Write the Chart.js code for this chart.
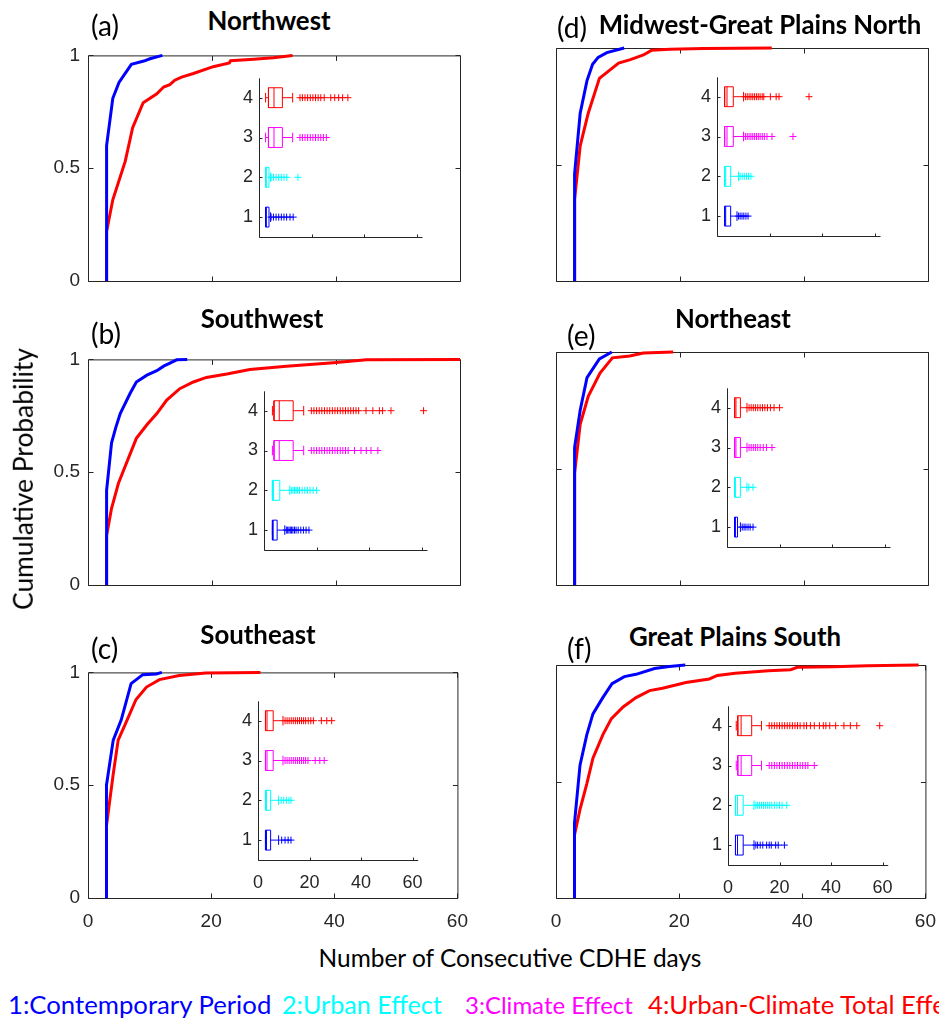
<!DOCTYPE html>
<html>
<head>
<meta charset="utf-8">
<script src="https://cdn.jsdelivr.net/npm/chart.js@4.4.0/dist/chart.umd.min.js"></script>
<style>
html,body{margin:0;padding:0;background:#fff;}
#fig{position:relative;width:939px;height:1018px;overflow:hidden;background:#fff;}
#fig canvas{position:absolute;}
.txt{position:absolute;white-space:nowrap;font-family:Lato,"Open Sans",sans-serif;color:#000;line-height:1;}
</style>
</head>
<body>
<div id="fig"></div>
<script>
// CDF curves, [days, cumulative probability]
const nwBlue = [[3,0],[3,0.6],[4,0.81],[5,0.88],[6,0.92],[7,0.96],[9,0.975],[10,0.985],[12,1]];
const nwRed = [[3,0],[3,0.22],[4,0.36],[6,0.53],[7.2,0.68],[8.9,0.79],[11.1,0.83],[12.2,0.86],[13.2,0.87],[14,0.89],[15.1,0.904],[17,0.92],[20.2,0.95],[22.8,0.967],[23,0.976],[26.7,0.983],[29.9,0.99],[33,1]];
const mwBlue = [[3,0],[3,0.46],[3.9,0.72],[5,0.86],[5.9,0.93],[6.8,0.96],[8.2,0.98],[11,1]];
const mwRed = [[3,0],[3,0.35],[3.9,0.58],[5.2,0.72],[7,0.87],[10.1,0.935],[12,0.95],[14.1,0.97],[15.4,0.99],[18.4,0.995],[23.8,0.998],[34.8,1]];
const swBlue = [[3,0],[3,0.42],[3.8,0.63],[4.5,0.7],[5.2,0.76],[6.8,0.85],[7.8,0.9],[9.5,0.93],[11.1,0.95],[12.2,0.97],[13.3,0.985],[14.3,0.998],[16,1]];
const swRed = [[3,0],[3,0.22],[3.8,0.34],[4.9,0.45],[6.2,0.54],[7.8,0.65],[9.5,0.71],[11.1,0.76],[12.7,0.82],[14.8,0.87],[17,0.9],[19.1,0.92],[22.4,0.935],[26.1,0.955],[32,0.97],[39.6,0.985],[44.9,0.998],[60,1]];
const neBlue = [[3,0],[3,0.59],[3.9,0.75],[5,0.89],[7,0.97],[9,1]];
const neRed = [[3,0],[3,0.48],[3.9,0.69],[5.2,0.81],[7.1,0.91],[9.1,0.975],[11.9,0.983],[14.1,0.996],[18.9,1]];
const seBlue = [[3,0],[3,0.5],[4.1,0.7],[5.4,0.79],[7,0.95],[8.9,0.99],[11.1,0.993],[12,1]];
const seRed = [[3,0],[3,0.32],[4.1,0.55],[4.9,0.7],[6.2,0.78],[7.8,0.88],[9.5,0.935],[11.6,0.968],[14.8,0.986],[19.1,0.997],[28,1]];
const gpBlue = [[3,0],[3,0.32],[3.9,0.57],[5,0.7],[6,0.79],[7.6,0.86],[9.1,0.92],[11.1,0.95],[13,0.96],[16,0.985],[18.4,0.994],[21,1]];
const gpRed = [[3,0],[3,0.27],[3.9,0.38],[5,0.49],[6,0.6],[7.6,0.7],[9,0.77],[10.9,0.82],[13,0.86],[15.2,0.89],[17.3,0.9],[21.1,0.925],[24.9,0.94],[26.2,0.955],[29.1,0.965],[34.5,0.975],[38.1,0.98],[39.2,0.99],[45.1,0.993],[50.6,0.997],[58.9,1]];

// inset boxplots: rows 1..4 as [lower whisker, q1, median, q3, upper whisker]
const nwStats = [[2.5,2.5,2.8,3.8,4.4],[2.5,2.5,2.8,3.8,4.4],[2.5,3.6,5.7,8.9,12.8],[2.5,3.6,5.7,8.9,12.8]];
const nwOut = [
  [4.6,5.5,6.5,7.5,8.5,9.5,10.5,11.8,13],
  [4.6,5.5,6.5,7.5,8.5,9.5,10.6,14.8],
  [15.6,16.5,17.5,18.5,19.5,20.5,21.5,22.5,23.5,24.5,25.6],
  [15.6,16.5,17.5,18.5,19.5,20.5,21.5,22.5,23.5,24.8,27.3,28.8,30.3,31.8,33.8]
];
const mwStats = [[2.9,2.9,3.3,5.2,7.6],[2.9,2.9,3.3,5.2,8.2],[2.9,2.9,3.8,6.2,10.1],[2.9,2.9,3.8,6.2,10.1]];
const mwOut = [
  [8.2,8.8,9.5,10.2,11,11.8],
  [8.8,9.6,10.4,11.2,12,12.9],
  [10.8,11.5,12.2,12.9,13.6,14.3,15,15.7,16.4,17.2,18,19,20.9,28.9],
  [10.8,11.5,12.2,12.9,13.6,14.3,15,15.7,16.4,17.2,17.8,20.3,22.5,23.6,35]
];
const swStats = [[3.2,3.2,3.5,5,7.9],[3.2,3.2,3.6,6,9.8],[3.2,3.8,5.8,11.1,15.1],[3.2,3.8,5.8,11.1,15.1]];
const swOut = [
  [8.5,9,9.5,10,10.5,11,11.6,12.2,13,14,15,16,17.1],
  [10.4,11,11.6,12.2,12.8,13.5,14.5,15.5,16.5,17.5,18.7,20],
  [18,19,20,21,22,23,24,25,26,27,28,29,30,31,32,34.4,36.9,38.9,40.7,43.3],
  [18,19,20,21,22,23,24,25,26,27,28,29,30,31,32,33,34,35,36,38.8,41.4,43.9,45.1,48.3,60.7]
];
const neStats = [[2.9,2.9,3.2,4,5.1],[2.9,2.9,3.2,5.1,7.6],[2.9,2.9,3.4,5.1,7.6],[2.9,2.9,3.4,5.1,7.6]];
const neOut = [
  [5.8,6.5,7.2,8,8.8,9.9],
  [8.3,9.9],
  [8.4,9.2,10,10.8,11.7,12.6,13.8,15,17.1],
  [8.4,9.2,10,10.8,11.7,12.6,13.5,14.4,15.4,16.5,17.9,20]
];
const seStats = [[2.9,2.9,3.3,4.9,8],[2.9,2.9,3.3,4.9,8],[2.9,2.9,3.5,5.9,9.7],[2.9,2.9,3.5,5.9,9.7]];
const seOut = [
  [9.2,10.5,11.7,12.8],
  [9,10,11,12,12.8],
  [10.5,11.3,12.1,12.9,13.7,14.5,15.3,16.1,16.9,17.7,18.5,19.4,22.2,24,25.7],
  [10.5,11.3,12.1,12.9,13.7,14.5,15.3,16.1,16.9,17.7,18.5,19.5,20.5,21.5,24.6,26.7,28.6]
];
const gpStats = [[2.9,2.9,3.7,5.9,10.1],[2.9,2.9,3.7,5.9,10.1],[3.2,3.8,5.1,9.2,13],[3.2,3.8,5.1,9.2,13]];
const gpOut = [
  [10.8,11.5,12.5,13.5,15,16,16.8,18.5,19.5,21.9],
  [10.8,11.5,12.2,13,13.8,14.6,15.4,16.2,17,18,19,20,21,22.8],
  [16,17,18,19,20,21,22,23,24,25,26,27,28,29,30,31,33.5],
  [16,17,18,19,20,21,22,23,24,25,26,27,28,29.5,30.5,32,33.5,35.5,37,38,39.5,41.8,45,47.5,50,58.9]
];

const mainXTicks = [0, 20, 40, 60];
const mainYTicks = [0, 0.5, 1];
const insetXTicks = [0, 20, 40, 60];
const insetYTicks = [1, 2, 3, 4];
const rowColors = ['#0000ff', '#00ffff', '#ff00ff', '#ff0000'];
const legendLabels = ['1:Contemporary Period', '2:Urban Effect', '3:Climate Effect', '4:Urban-Climate Total Effect'];

const AX = '#262626';
const TF = '"Liberation Sans", Arial, sans-serif';
const fig = document.getElementById('fig');

const panels = [
  {tag:'(a)', title:'Northwest', blue:nwBlue, red:nwRed, stats:nwStats, out:nwOut,
   L:88, T:48, showX:false, showY:true, iL:259, iT:73, iX:false, tagXY:[91,25], ttlXY:[269,21]},
  {tag:'(d)', title:'Midwest-Great Plains North', blue:mwBlue, red:mwRed, stats:mwStats, out:mwOut,
   L:556, T:48, showX:false, showY:false, iL:717, iT:72, iX:false, tagXY:[557,27], ttlXY:[760,25]},
  {tag:'(b)', title:'Southwest', blue:swBlue, red:swRed, stats:swStats, out:swOut,
   L:88, T:352, showX:false, showY:true, iL:264, iT:386, iX:false, tagXY:[91,333], ttlXY:[262,319]},
  {tag:'(e)', title:'Northeast', blue:neBlue, red:neRed, stats:neStats, out:neOut,
   L:556, T:352, showX:false, showY:false, iL:727, iT:383, iX:false, tagXY:[567,335], ttlXY:[733,319]},
  {tag:'(c)', title:'Southeast', blue:seBlue, red:seRed, stats:seStats, out:seOut,
   L:88, T:665, showX:true, showY:true, iL:258, iT:696, iX:true, tagXY:[91,648], ttlXY:[258,635]},
  {tag:'(f)', title:'Great Plains South', blue:gpBlue, red:gpRed, stats:gpStats, out:gpOut,
   L:556, T:665, showX:true, showY:false, iL:728, iT:701, iX:true, tagXY:[567,648], ttlXY:[735,637]}
];

// matlab-like axes: box or left/bottom lines, ticks pointing inward
const framePlugin = {
  id: 'frame',
  beforeDatasetsDraw(chart, args, o) {
    const {ctx, chartArea: a, scales: {x, y}} = chart;
    const len = o.len;
    ctx.save();
    ctx.strokeStyle = AX;
    ctx.lineWidth = 1;
    ctx.beginPath();
    const l = a.left + 0.5, r = a.right + 0.5, t = a.top + 0.5, b = a.bottom + 0.5;
    ctx.moveTo(l, t); ctx.lineTo(l, b); ctx.lineTo(r, b);
    if (o.box) { ctx.lineTo(r, t); ctx.lineTo(l, t); }
    x.ticks.forEach(tk => {
      const px = Math.round(x.getPixelForValue(tk.value)) + 0.5;
      ctx.moveTo(px, b); ctx.lineTo(px, b - len);
      if (o.box) { ctx.moveTo(px, t); ctx.lineTo(px, t + len); }
    });
    y.ticks.forEach(tk => {
      const py = Math.round(y.getPixelForValue(tk.value)) + 0.5;
      ctx.moveTo(l, py); ctx.lineTo(l + len, py);
      if (o.box) { ctx.moveTo(r, py); ctx.lineTo(r - len, py); }
    });
    ctx.stroke();
    ctx.restore();
  }
};

function makeCanvas(left, top, w, h) {
  const c = document.createElement('canvas');
  c.width = w; c.height = h;
  c.style.left = left + 'px'; c.style.top = top + 'px';
  c.style.width = w + 'px'; c.style.height = h + 'px';
  fig.appendChild(c);
  return c;
}

const PW = 372, PH = 233, ML = 50, MT = 12, MR = 20, MB = 36;
const IW = 163, IH = 164, IL = 30, IT = 12, IR = 14, IB = 30;

function mainChart(p) {
  const cv = makeCanvas(p.L - ML, p.T - MT, ML + PW + MR, MT + PH + MB);
  const line = (pts, col) => ({
    data: pts.map(([x, y]) => ({x, y})), showLine: true, borderColor: col,
    borderWidth: 3, pointRadius: 0, clip: 6, tension: 0
  });
  new Chart(cv, {
    type: 'scatter',
    data: {datasets: [line(p.blue, '#0000ff'), line(p.red, '#ff0000')]},
    options: {
      responsive: false, animation: false, events: [],
      layout: {padding: {left: 0, top: MT, right: MR, bottom: 0}},
      plugins: {legend: {display: false}, tooltip: {enabled: false}, frame: {box: true, len: 5}},
      scales: {
        x: {
          type: 'linear', position: 'bottom', min: 0, max: 60,
          afterBuildTicks: s => { s.ticks = mainXTicks.map(v => ({value: v})); },
          afterFit: s => { s.height = MB; },
          grid: {display: false, drawTicks: false}, border: {display: false},
          ticks: {display: p.showX, font: {family: TF, size: 19}, color: AX, padding: 12, maxRotation: 0, autoSkip: false}
        },
        y: {
          type: 'linear', position: 'left', min: 0, max: 1,
          afterBuildTicks: s => { s.ticks = mainYTicks.map(v => ({value: v})); },
          afterFit: s => { s.width = ML; },
          grid: {display: false, drawTicks: false}, border: {display: false},
          ticks: {display: p.showY, font: {family: TF, size: 19}, color: AX, padding: 8, callback: v => String(v)}
        }
      }
    },
    plugins: [framePlugin]
  });
}

function boxLines(s, r) {
  const [lo, q1, md, q3, hi] = s, h = 0.25, c = 0.12, gap = {x: null, y: null};
  return [
    {x: q1, y: r - h}, {x: q3, y: r - h}, {x: q3, y: r + h}, {x: q1, y: r + h}, {x: q1, y: r - h}, gap,
    {x: md, y: r - h}, {x: md, y: r + h}, gap,
    {x: lo, y: r}, {x: q1, y: r}, gap,
    {x: q3, y: r}, {x: hi, y: r}, gap,
    {x: lo, y: r - c}, {x: lo, y: r + c}, gap,
    {x: hi, y: r - c}, {x: hi, y: r + c}
  ];
}

function insetChart(p) {
  const cv = makeCanvas(p.iL - IL, p.iT - IT, IL + IW + IR, IT + IH + IB);
  const sets = [];
  p.stats.forEach((s, i) => {
    sets.push({data: boxLines(s, i + 1), showLine: true, spanGaps: false, borderColor: rowColors[i],
      borderWidth: 1, pointRadius: 0, clip: false});
    sets.push({data: p.out[i].map(v => ({x: v, y: i + 1})), showLine: false, pointStyle: 'cross',
      pointRadius: 3.5, pointBorderWidth: 1, borderColor: rowColors[i], backgroundColor: rowColors[i], clip: false});
  });
  new Chart(cv, {
    type: 'scatter',
    data: {datasets: sets},
    options: {
      responsive: false, animation: false, events: [],
      layout: {padding: {left: 0, top: IT, right: IR, bottom: 0}},
      plugins: {legend: {display: false}, tooltip: {enabled: false}, frame: {box: false, len: 3}},
      scales: {
        x: {
          type: 'linear', position: 'bottom', min: 0, max: 62,
          afterBuildTicks: s => { s.ticks = insetXTicks.map(v => ({value: v})); },
          afterFit: s => { s.height = IB; },
          grid: {display: false, drawTicks: false}, border: {display: false},
          ticks: {display: p.iX, font: {family: TF, size: 18}, color: AX, padding: 12, maxRotation: 0, autoSkip: false}
        },
        y: {
          type: 'linear', position: 'left', min: 0.5, max: 4.5,
          afterBuildTicks: s => { s.ticks = insetYTicks.map(v => ({value: v})); },
          afterFit: s => { s.width = IL; },
          grid: {display: false, drawTicks: false}, border: {display: false},
          ticks: {font: {family: TF, size: 18}, color: AX, padding: 6, callback: v => String(v)}
        }
      }
    },
    plugins: [framePlugin]
  });
}

// text sizes fitted to the widths measured on the figure
const mctx = document.createElement('canvas').getContext('2d');
function sizeFor(str, w, bold) {
  mctx.font = (bold ? 'bold ' : '') + '100px Lato';
  return 100 * w / mctx.measureText(str).width;
}
function addText(str, x, y, size, o = {}) {
  const d = document.createElement('div');
  d.className = 'txt';
  d.textContent = str;
  d.style.fontSize = size + 'px';
  d.style.left = x + 'px';
  d.style.top = y + 'px';
  if (o.bold) d.style.fontWeight = 'bold';
  if (o.color) d.style.color = o.color;
  d.style.transform = (o.center ? 'translate(-50%,-50%)' : 'translateY(-50%)') + (o.rot ? ' rotate(-90deg)' : '');
  fig.appendChild(d);
}

panels.forEach(mainChart);
panels.forEach(insetChart);

const titleSize = sizeFor('Midwest-Great Plains North', 323, true);
const tagSize = sizeFor('(a)', 28, false);
panels.forEach(p => {
  addText(p.title, p.ttlXY[0], p.ttlXY[1], titleSize, {bold: true, center: true});
  addText(p.tag, p.tagXY[0], p.tagXY[1], tagSize);
});

addText('Cumulative Probability', 23, 479, sizeFor('Cumulative Probability', 262, false), {center: true, rot: true});
addText('Number of Consecutive CDHE days', 510, 958, sizeFor('Number of Consecutive CDHE days', 384, false), {center: true});

// legend entries, each fitted to its measured width; the last one runs off the page
const legX = [8, 282, 465, 648];
const legW = [264, 160, 168, 0];
const baseLeg = sizeFor(legendLabels[0], legW[0], false);
legendLabels.forEach((t, i) => {
  const sz = legW[i] ? sizeFor(t, legW[i], false) : baseLeg;
  addText(t, legX[i], 1005, sz, {color: rowColors[i]});
});
</script>
</body>
</html>
